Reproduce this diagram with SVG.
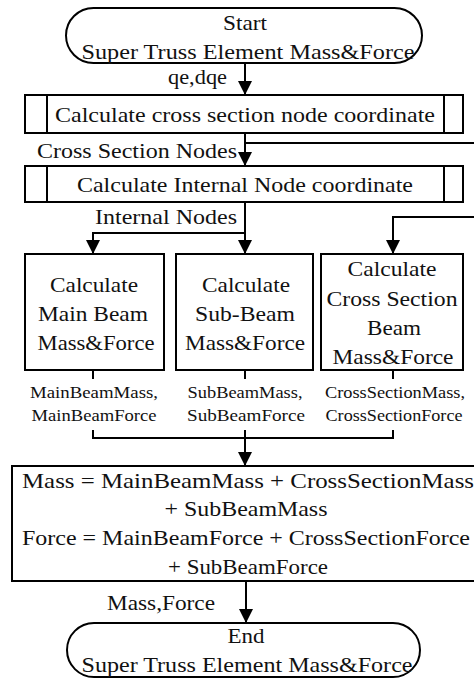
<svg xmlns="http://www.w3.org/2000/svg" width="474" height="680" viewBox="0 0 474 680">
  <style>
    .shape { fill: #ffffff; stroke: #000000; stroke-width: 2; }
    .line { fill: none; stroke: #000000; stroke-width: 2; }
    .arrow { fill: none; stroke: #000000; stroke-width: 2; marker-end: url(#head); }
    text { font-family: "Liberation Serif", "Times New Roman", serif; fill: #111111; }
    .t { font-size: 22px; text-anchor: middle; }
    .lbl { font-size: 22px; }
    .out { font-size: 17px; text-anchor: middle; }
  </style>
  <defs>
    <marker id="head" markerUnits="userSpaceOnUse" markerWidth="14" markerHeight="15" refX="14" refY="7" orient="auto">
      <path d="M0,0 L14,7 L0,14 Z" fill="#000000"/>
    </marker>
  </defs>
  <rect width="474" height="680" fill="#ffffff"/>

  <!-- connectors -->
  <g id="connectors">
    <path class="arrow" d="M245,63 V95"/>
    <path class="arrow" d="M245,133 V166"/>
    <path class="line" d="M245,143 H474"/>
    <path class="arrow" d="M245,202 V254"/>
    <path class="arrow" d="M245,233 H93 V254"/>
    <path class="arrow" d="M474,217 H393 V254"/>
    <path class="line" d="M93,370 V379 M245,370 V379 M393,370 V379"/>
    <path class="line" d="M93,430 V438 H393 V430"/>
    <path class="arrow" d="M245,430 V466"/>
    <path class="arrow" d="M246,581 V623"/>
    <text class="lbl" x="168" y="84" textLength="59" lengthAdjust="spacingAndGlyphs">qe,dqe</text>
    <text class="lbl" x="37" y="158" textLength="200" lengthAdjust="spacingAndGlyphs">Cross Section Nodes</text>
    <text class="lbl" x="95" y="224" textLength="142" lengthAdjust="spacingAndGlyphs">Internal Nodes</text>
    <text class="out" x="94" y="398" textLength="128" lengthAdjust="spacingAndGlyphs">MainBeamMass,</text>
    <text class="out" x="94" y="421" textLength="125" lengthAdjust="spacingAndGlyphs">MainBeamForce</text>
    <text class="out" x="245" y="398" textLength="115" lengthAdjust="spacingAndGlyphs">SubBeamMass,</text>
    <text class="out" x="246" y="421" textLength="118" lengthAdjust="spacingAndGlyphs">SubBeamForce</text>
    <text class="out" x="395" y="398" textLength="140" lengthAdjust="spacingAndGlyphs">CrossSectionMass,</text>
    <text class="out" x="394" y="421" textLength="137" lengthAdjust="spacingAndGlyphs">CrossSectionForce</text>
    <text class="lbl" x="107" y="610" textLength="108" lengthAdjust="spacingAndGlyphs">Mass,Force</text>
  </g>

  <!-- start terminator -->
  <g id="start">
    <rect class="shape" x="66" y="8" width="356" height="55" rx="27.5"/>
    <text class="t" x="245" y="30" textLength="44" lengthAdjust="spacingAndGlyphs">Start</text>
    <text class="t" x="248" y="59" textLength="333" lengthAdjust="spacingAndGlyphs">Super Truss Element Mass&amp;Force</text>
  </g>

  <!-- predefined process: cross section nodes -->
  <g id="cross-section-nodes">
    <rect class="shape" x="25" y="95" width="438" height="38"/>
    <path class="line" d="M47,95 V133 M444,95 V133"/>
    <text class="t" x="245" y="122" textLength="380" lengthAdjust="spacingAndGlyphs">Calculate cross section node coordinate</text>
  </g>

  <!-- predefined process: internal nodes -->
  <g id="internal-nodes">
    <rect class="shape" x="25" y="166" width="438" height="36"/>
    <path class="line" d="M47,166 V202 M444,166 V202"/>
    <text class="t" x="245" y="192" textLength="336" lengthAdjust="spacingAndGlyphs">Calculate Internal Node coordinate</text>
  </g>

  <!-- main beam -->
  <g id="main-beam">
    <rect class="shape" x="25" y="254" width="139" height="116"/>
    <text class="t" x="94" y="292" textLength="88" lengthAdjust="spacingAndGlyphs">Calculate</text>
    <text class="t" x="93" y="321" textLength="110" lengthAdjust="spacingAndGlyphs">Main Beam</text>
    <text class="t" x="96" y="350" textLength="117" lengthAdjust="spacingAndGlyphs">Mass&amp;Force</text>
  </g>

  <!-- sub-beam -->
  <g id="sub-beam">
    <rect class="shape" x="176" y="254" width="137" height="116"/>
    <text class="t" x="246" y="292" textLength="88" lengthAdjust="spacingAndGlyphs">Calculate</text>
    <text class="t" x="245" y="321" textLength="100" lengthAdjust="spacingAndGlyphs">Sub-Beam</text>
    <text class="t" x="245" y="350" textLength="120" lengthAdjust="spacingAndGlyphs">Mass&amp;Force</text>
  </g>

  <!-- cross section beam -->
  <g id="cross-section-beam">
    <rect class="shape" x="321" y="254" width="142" height="116"/>
    <text class="t" x="392" y="276" textLength="89" lengthAdjust="spacingAndGlyphs">Calculate</text>
    <text class="t" x="392" y="306" textLength="131" lengthAdjust="spacingAndGlyphs">Cross Section</text>
    <text class="t" x="394" y="335" textLength="54" lengthAdjust="spacingAndGlyphs">Beam</text>
    <text class="t" x="393" y="364" textLength="121" lengthAdjust="spacingAndGlyphs">Mass&amp;Force</text>
  </g>

  <!-- summation -->
  <g id="sum">
    <rect class="shape" x="12" y="466" width="470" height="115"/>
    <text class="lbl" x="22" y="488" textLength="452" lengthAdjust="spacingAndGlyphs">Mass  = MainBeamMass  + CrossSectionMass</text>
    <text class="t" x="246" y="516" textLength="163" lengthAdjust="spacingAndGlyphs">+ SubBeamMass</text>
    <text class="lbl" x="22" y="545" textLength="448" lengthAdjust="spacingAndGlyphs">Force = MainBeamForce + CrossSectionForce</text>
    <text class="t" x="248" y="574" textLength="160" lengthAdjust="spacingAndGlyphs">+ SubBeamForce</text>
  </g>

  <!-- end terminator -->
  <g id="end">
    <rect class="shape" x="67" y="623" width="353" height="54" rx="27"/>
    <text class="t" x="246" y="643" textLength="37" lengthAdjust="spacingAndGlyphs">End</text>
    <text class="t" x="247" y="672" textLength="331" lengthAdjust="spacingAndGlyphs">Super Truss Element Mass&amp;Force</text>
  </g>
</svg>
